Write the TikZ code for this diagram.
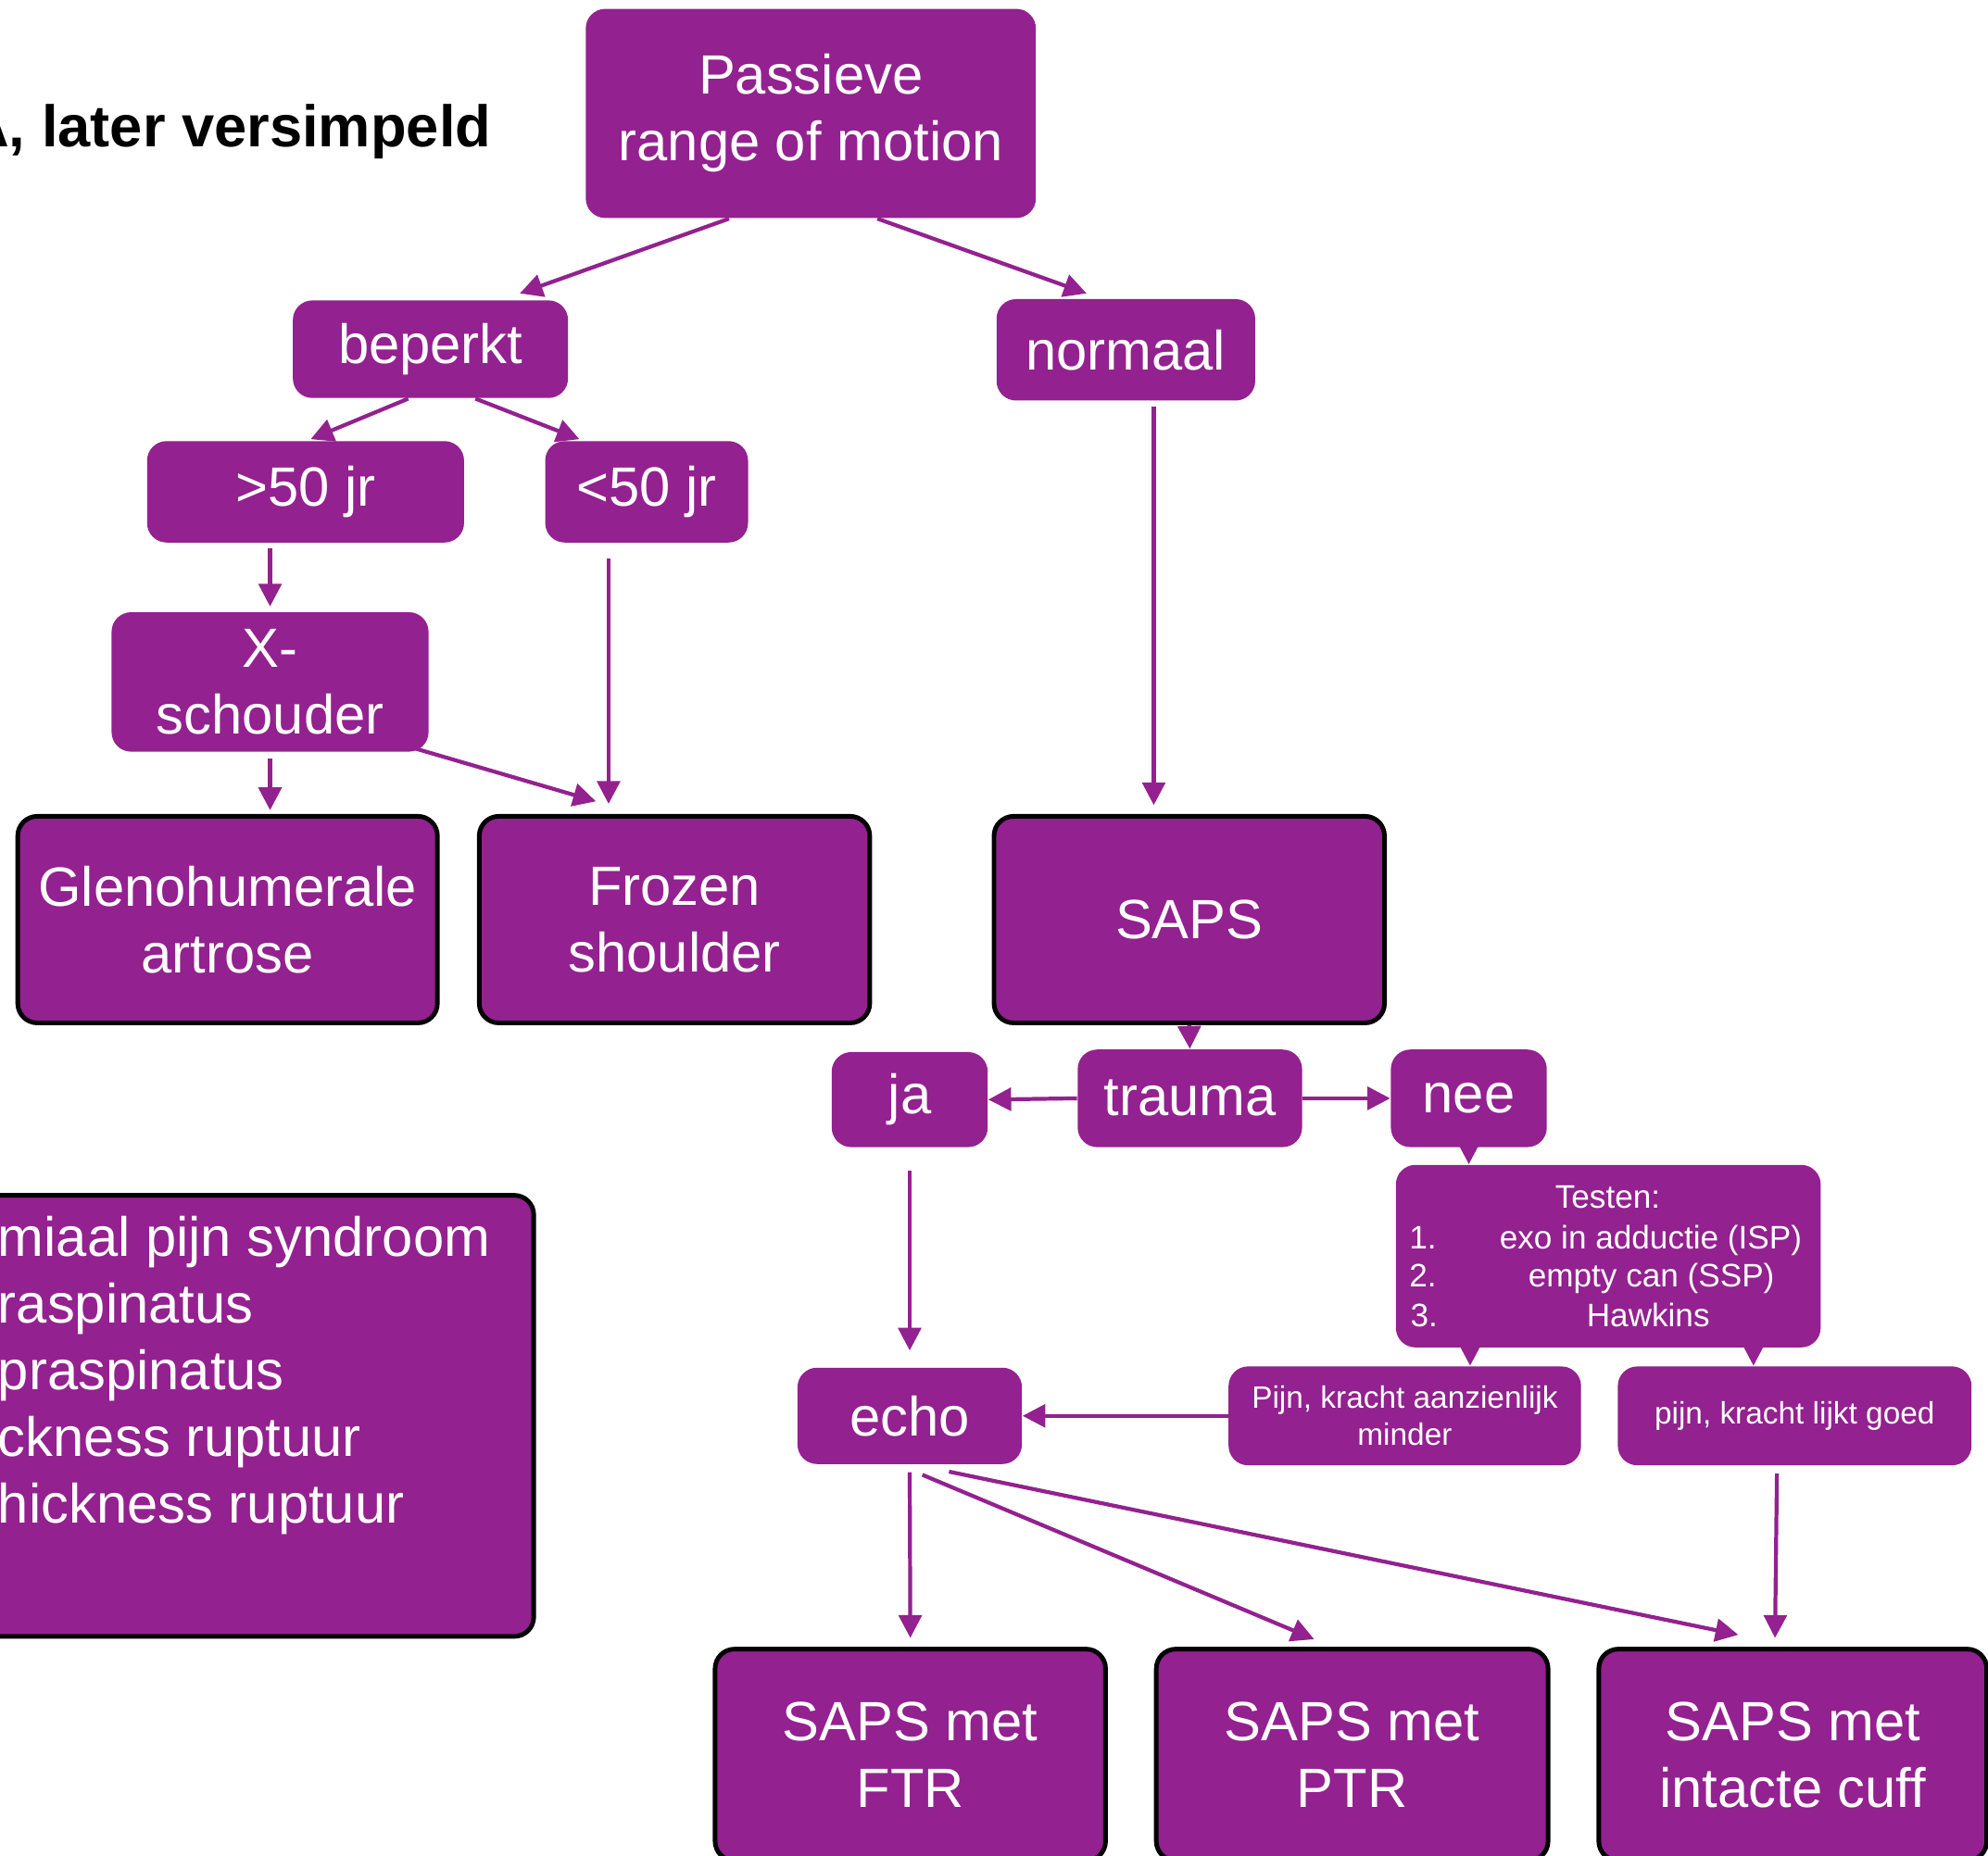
\documentclass[tikz,border=0pt]{standalone}
\usepackage{fontspec}
\setmainfont{Liberation Sans}
\usetikzlibrary{arrows.meta,calc}
\definecolor{purp}{RGB}{147,33,143}
\begin{document}
\begin{tikzpicture}[x=0.013686cm,y=-0.013686cm,
  rect/.style args={#1/#2/#3/#4}{minimum width={(#3-#1)*0.013686cm},minimum height={(#4-#2)*0.013686cm},at={({(#1+#3)/2},{(#2+#4)/2})}},
  box/.style={rectangle,rounded corners=6pt,fill=purp,text=white,inner sep=0pt,align=center,font=\fontsize{17}{20.5}\selectfont},
  bbox/.style={box,draw=black,line width=1.4pt},
  small/.style={box,font=\fontsize{9.5}{11.3}\selectfont},
  ttxt/.style={text=white,inner sep=0pt,font=\fontsize{10}{12}\selectfont},
  ltxt/.style={text=white,inner sep=0pt,anchor=base west,font=\fontsize{17}{20.5}\selectfont},
  arr/.style={draw=purp,line width=1.2pt,-{Triangle[width=7pt,length=7pt]}},
]
\useasboundingbox (0,0) rectangle (1568,1464);
\clip (0,0) rectangle (1568,1464);

% title
\node[anchor=base east,inner sep=0pt,font=\bfseries\fontsize{18}{22}\selectfont] (title) at (388,116) {A, later versimpeld};

% nodes
\node[box,rect=462/7/817/172] (pass) {Passieve\\range of motion};
\node[box,rect=231/237/448/314] (beperkt) {beperkt};
\node[box,rect=786/236/990/316] (normaal) {normaal};
\node[box,rect=116/348/366/428] (gt) {>50 jr};
\node[box,rect=430/348/590/428] (lt) {<50 jr};
\node[box,rect=88/483/338/593] (xs) {X-\\schouder};
\node[bbox,rect=14/644/345/807] (glen) {Glenohumerale\\artrose};
\node[bbox,rect=378/644/686/807] (frozen) {Frozen\\shoulder};
\node[bbox,rect=784/644/1092/807] (saps) {SAPS};
\node[box,rect=656/830/779/905] (ja) {ja};
\node[box,rect=850/828/1027/905] (trauma) {trauma};
\node[box,rect=1097/828/1220/905] (nee) {nee};
\node[box,rect=1101/919/1436/1063] (testen) {};
\node[box,rect=629/1079/806/1155] (echo) {echo};
\node[small,rect=969/1078/1247/1156] (pijn) {Pijn, kracht aanzienlijk\\minder};
\node[small,rect=1276/1078/1555/1156] (goed) {pijn, kracht lijkt goed};
\node[bbox,rect=-30/943/421/1291] (leftbox) {};
\node[bbox,rect=564/1301/872/1468] (ftr) {SAPS met\\FTR};
\node[bbox,rect=912/1301/1221/1468] (ptr) {SAPS met\\PTR};
\node[bbox,rect=1261/1301/1567/1468] (intact) {SAPS met\\intacte cuff};

% testen text
\node[ttxt,anchor=base] (tt0) at (1268,953.5) {Testen:};
\node[ttxt,anchor=base west] (tn1) at (1111,985) {1.};
\node[ttxt,anchor=base west] (tn2) at (1111,1015.6) {2.};
\node[ttxt,anchor=base west] (tn3) at (1112,1047) {3.};
\node[ttxt,anchor=base] (ti1) at (1302,985) {exo in adductie (ISP)};
\node[ttxt,anchor=base] (ti2) at (1302.5,1015.6) {empty can (SSP)};
\node[ttxt,anchor=base] (ti3) at (1300,1047) {Hawkins};

% left box text
\node[ltxt] (l1) at (-2,991) {miaal pijn syndroom};
\node[ltxt] (l2) at (-2,1043.6) {raspinatus};
\node[ltxt] (l3) at (-2,1096.2) {praspinatus};
\node[ltxt] (l4) at (-2,1148.8) {ckness ruptuur};
\node[ltxt] (l5) at (-2,1201.4) {hickness ruptuur};

% connectors
\draw[arr] ($(pass.south)+(-64.5,0)$) -- ($(beperkt.north)+(70.5,-5)$);
\draw[arr] ($(pass.south)+(52.5,0)$) -- ($(normaal.north)+(-31,-4)$);
\draw[arr] ($(beperkt.south)+(-17.5,0)$) -- ($(gt.north)+(4,-1)$);
\draw[arr] ($(beperkt.south)+(35.5,0)$) -- ($(lt.north)+(-53,-1)$);
\draw[arr] ($(gt.south)+(-28,4)$) -- ($(xs.north)+(0,-4)$);
\draw[arr] ($(lt.south)+(-30,12)$) -- ($(frozen.north)+(-52,-8)$);
\draw[arr] ($(xs.south)+(0,5)$) -- ($(glen.north)+(33.5,-3)$);
\draw[arr] ($(xs.south east)+(-11,-3)$) -- ($(frozen.north)+(-62,-10)$);
\draw[arr] ($(normaal.south)+(22,4)$) -- ($(saps.north)+(-28,-7)$);
\draw[arr] (saps.south) -- (trauma.north);
\draw[arr] (trauma.west) -- (ja.east);
\draw[arr] (trauma.east) -- (nee.west);
\draw[arr] (nee.south) -- ($(testen.north)+(-110,0)$);
\draw[arr] ($(ja.south)+(0,18)$) -- ($(echo.north)+(0,-13)$);
\draw[arr] ($(testen.south)+(-109,0)$) -- ($(pijn.north)+(51.5,0)$);
\draw[arr] ($(testen.south)+(114.5,0)$) -- ($(goed.north)+(-32.5,0)$);
\draw[arr] (pijn.west) -- (echo.east);
\draw[arr] ($(echo.south)+(0,6)$) -- ($(ftr.north)+(0,-7)$);
\draw[arr] ($(echo.south)+(10,8)$) -- ($(ptr.north)+(-30,-6)$);
\draw[arr] ($(echo.south)+(31,5.5)$) -- ($(intact.north)+(-43,-9.5)$);
\draw[arr] ($(goed.south)+(-14,6)$) -- ($(intact.north)+(-14,-7)$);
\end{tikzpicture}
\end{document}
